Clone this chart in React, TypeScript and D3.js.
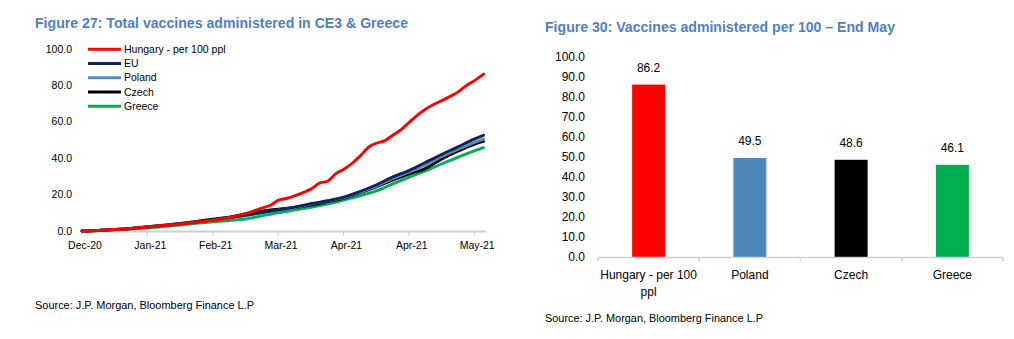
import React from "react";
import * as d3 from "d3";

// ---------- Figure 27 data (days since chart start, per-100 values) ----------
const days = [0, 7, 14, 21, 28, 35, 42, 49, 56, 63, 70, 77, 84, 91, 98, 105, 112, 119, 126, 133, 140, 147, 154, 161, 168, 172];
const hungaryDays = [0, 7, 14, 21, 28, 35, 42, 49, 56, 63, 70, 74, 77, 81, 84, 88, 91, 95, 98, 102, 105, 109, 112, 116, 119, 123, 126, 130, 133, 137, 140, 144, 147, 151, 154, 158, 161, 165, 168, 172];
const hungary = [0, 0.3, 0.8, 1.4, 2.2, 3.0, 3.8, 4.8, 5.9, 7.3, 9.5, 11.2, 12.6, 14.3, 16.8, 18.0, 19.3, 21.2, 23.0, 26.5, 27.2, 31.8, 33.8, 37.5, 41.0, 46.3, 48.2, 49.8, 52.5, 56.0, 59.5, 64.0, 66.8, 69.8, 71.5, 74.2, 76.3, 80.2, 82.5, 86.2];
const eu = [0, 0.3, 0.8, 1.4, 2.2, 3.0, 3.9, 4.9, 6.0, 7.2, 8.6, 10.1, 11.6, 13.1, 15.0, 16.6, 18.6, 21.7, 25.3, 29.6, 33.2, 37.6, 42.0, 46.2, 50.5, 52.6];
const poland = [0, 0.3, 0.8, 1.4, 2.2, 3.0, 3.9, 4.9, 6.0, 7.2, 8.5, 10.0, 11.4, 12.9, 14.8, 16.4, 18.3, 21.2, 24.6, 28.7, 32.3, 36.3, 40.8, 44.8, 48.6, 50.5];
const czech = [0, 0.3, 0.8, 1.4, 2.3, 3.2, 4.2, 5.3, 6.5, 7.6, 9.4, 10.9, 12.0, 12.9, 14.2, 16.0, 17.9, 20.9, 24.2, 28.0, 31.3, 34.3, 39.5, 43.8, 47.6, 49.2];
const greece = [0, 0.2, 0.6, 1.1, 1.7, 2.5, 3.3, 4.2, 5.1, 5.8, 6.6, 8.3, 10.0, 11.5, 13.0, 14.8, 17.0, 19.3, 22.0, 25.8, 29.5, 33.0, 36.8, 40.5, 44.0, 45.8];

const seriesNames = ["Hungary - per 100 ppl", "EU", "Poland", "Czech", "Greece"];
const seriesColors = ["#FF0000", "#0F2557", "#5A8CC4", "#000000", "#00B050"];

const xTickDays = [0, 28, 56, 84, 112, 140, 168];
const xTickLabels = ["Dec-20", "Jan-21", "Feb-21", "Mar-21", "Apr-21", "Apr-21", "May-21"];
const yTicksLeft = [0, 20, 40, 60, 80, 100];

// ---------- Figure 30 data ----------
const barCategories = ["Hungary - per 100 ppl", "Poland", "Czech", "Greece"];
const barValues = [86.2, 49.5, 48.6, 46.1];
const barColors = ["#FF0000", "#4F88BD", "#000000", "#00B050"];
const yTicksRight = [0, 10, 20, 30, 40, 50, 60, 70, 80, 90, 100];

const FONT = "'Liberation Sans', Arial, sans-serif";
const TITLE_COLOR = "#4F81BD";

export default function App() {
  // Left chart scales
  const xL = d3.scaleLinear().domain([0, 172]).range([82, 483.5]);
  const yL = d3.scaleLinear().domain([0, 100]).range([231, 49]);
  const allSeries = [hungary, eu, poland, czech, greece];
  const allDays = [hungaryDays, days, days, days, days];
  const makeLine = (dd: number[]) =>
    d3
      .line<number>()
      .x((_, i) => xL(dd[i]))
      .y((v) => yL(v))
      .curve(d3.curveMonotoneX);

  // Right chart scales
  const xR = d3.scaleBand<string>().domain(barCategories).range([598, 1003]).paddingInner(0.674).paddingOuter(0.337);
  const yR = d3.scaleLinear().domain([0, 100]).range([257, 57]);
  const bandEdges = barCategories.map((c) => (xR(c) as number) - (xR.step() - xR.bandwidth()) / 2).concat([1003]);

  // draw order: Greece, Czech, Poland, EU, Hungary on top
  const drawOrder = [4, 3, 2, 1, 0];

  return (
    <svg width={1014} height={339} style={{ position: "absolute", left: 0, top: 0, background: "#fff" }} fontFamily={FONT}>
      {/* ---------- Left chart ---------- */}
      <text x={35} y={28} fontSize={14.5} fontWeight="bold" fill={TITLE_COLOR} textLength={373} lengthAdjust="spacingAndGlyphs">
        Figure 27: Total vaccines administered in CE3 &amp; Greece
      </text>

      {yTicksLeft.map((t) => (
        <text key={t} x={72} y={yL(t)} dy="0.35em" textAnchor="end" fontSize={10.5} fill="#000">
          {t.toFixed(1)}
        </text>
      ))}

      <line x1={82} x2={486} y1={231.5} y2={231.5} stroke="#D0D0D0" strokeWidth={2} />
      {xTickDays.map((d, i) => (
        <g key={i}>
          <line x1={xL(d)} x2={xL(d)} y1={231} y2={236} stroke="#D0D0D0" strokeWidth={1} />
          <text x={xL(d) + 3} y={249} textAnchor="middle" fontSize={10.5} fill="#000">
            {xTickLabels[i]}
          </text>
        </g>
      ))}

      {drawOrder.map((si) => (
        <path key={si} d={makeLine(allDays[si])(allSeries[si]) || ""} fill="none" stroke={seriesColors[si]} strokeWidth={2.9} strokeLinejoin="round" strokeLinecap="round" />
      ))}

      {seriesNames.map((n, i) => (
        <g key={n}>
          <line x1={88} x2={121} y1={49.3 + i * 14.25} y2={49.3 + i * 14.25} stroke={seriesColors[i]} strokeWidth={3} />
          <text x={124} y={49.3 + i * 14.25} dy="0.35em" fontSize={10.5} fill="#000">
            {n}
          </text>
        </g>
      ))}

      <text x={35} y={308.5} fontSize={10} fill="#000" textLength={219} lengthAdjust="spacingAndGlyphs">
        Source: J.P. Morgan, Bloomberg Finance L.P
      </text>

      {/* ---------- Right chart ---------- */}
      <text x={545} y={32} fontSize={14} fontWeight="bold" fill={TITLE_COLOR} textLength={350} lengthAdjust="spacingAndGlyphs">
        Figure 30: Vaccines administered per 100 – End May
      </text>

      {yTicksRight.map((t) => (
        <text key={t} x={585} y={yR(t)} dy="0.35em" textAnchor="end" fontSize={12} fill="#000">
          {t.toFixed(1)}
        </text>
      ))}

      {barCategories.map((c, i) => (
        <g key={c}>
          <rect x={xR(c)} y={yR(barValues[i])} width={xR.bandwidth()} height={yR(0) - yR(barValues[i])} fill={barColors[i]} />
          <text x={(xR(c) as number) + xR.bandwidth() / 2} y={yR(barValues[i]) - 13} textAnchor="middle" fontSize={12} fill="#000">
            {barValues[i].toFixed(1)}
          </text>
        </g>
      ))}

      <line x1={598} x2={1003} y1={257.5} y2={257.5} stroke="#D0D0D0" strokeWidth={1.5} />
      {bandEdges.map((x, i) => (
        <line key={i} x1={x} x2={x} y1={257} y2={261} stroke="#D0D0D0" strokeWidth={1.5} />
      ))}

      {barCategories.map((c) => {
        const cx = (xR(c) as number) + xR.bandwidth() / 2;
        const lines = c === "Hungary - per 100 ppl" ? ["Hungary - per 100", "ppl"] : [c];
        return (
          <text key={c} x={cx} y={279} textAnchor="middle" fontSize={12} fill="#000">
            {lines.map((l, j) => (
              <tspan key={j} x={cx} dy={j === 0 ? 0 : 16.5}>
                {l}
              </tspan>
            ))}
          </text>
        );
      })}

      <text x={545} y={321.5} fontSize={10} fill="#000" textLength={218} lengthAdjust="spacingAndGlyphs">
        Source: J.P. Morgan, Bloomberg Finance L.P
      </text>
    </svg>
  );
}
